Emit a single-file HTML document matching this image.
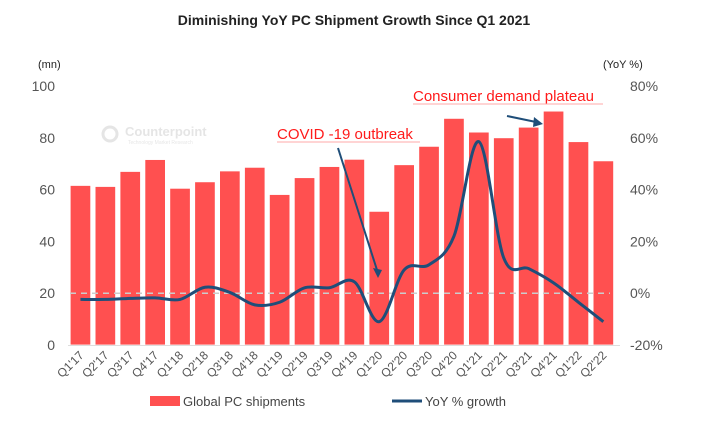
<!DOCTYPE html>
<html><head><meta charset="utf-8"><style>
body{margin:0;background:#fff;}
svg text{font-family:"Liberation Sans",Arial,sans-serif;}
</style></head><body>
<svg width="708" height="421" viewBox="0 0 708 421">
<text x="354" y="25" text-anchor="middle" font-size="14" font-weight="bold" fill="#222">Diminishing YoY PC Shipment Growth Since Q1 2021</text>
<text x="38" y="68" font-size="11" fill="#222">(mn)</text>
<text x="603" y="68" font-size="11" fill="#222">(YoY %)</text>
<g opacity="0.25">
<circle cx="110" cy="134" r="7" fill="none" stroke="#999" stroke-width="3"/>
<text x="125" y="136" font-size="13" font-weight="bold" fill="#999">Counterpoint</text>
<text x="128" y="144" font-size="5" fill="#999">Technology Market Research</text>
</g>
<g id="leftTicks"></g><g id="rightTicks"></g>
<g id="bars"></g>
<line x1="68" x2="620" y1="345.5" y2="345.5" stroke="#ddd" stroke-width="1"/>
<line id="zeroLine" x1="70" x2="610" stroke="#ccc" stroke-width="1.5" stroke-dasharray="6,5"/>
<path id="yoyLine" fill="none" stroke="#1f4e79" stroke-width="3"/>
<g id="xLabels"></g>
<g>
<text x="277" y="139" font-size="15" fill="#ff1a1a">COVID -19 outbreak</text>
<line x1="277" y1="142" x2="420" y2="142" stroke="#ffaaaa" stroke-width="1"/>
<line x1="338" y1="148" x2="377" y2="270" stroke="#1f4e79" stroke-width="2"/>
<polygon points="373,268 382,270 378,278" fill="#1f4e79"/>
</g>
<g>
<text x="413" y="101" font-size="15" fill="#ff1a1a">Consumer demand plateau</text>
<line x1="413" y1="104" x2="603" y2="104" stroke="#ffaaaa" stroke-width="1"/>
<line x1="507" y1="116" x2="536" y2="122" stroke="#1f4e79" stroke-width="2"/>
<polygon points="534,117 543,124 533,127" fill="#1f4e79"/>
</g>
<g>
<rect x="150" y="396" width="30" height="10" fill="#ff5050"/>
<text x="183" y="406" font-size="13" fill="#444">Global PC shipments</text>
<line x1="392" y1="401" x2="422" y2="401" stroke="#1f4e79" stroke-width="3"/>
<text x="425" y="406" font-size="13" fill="#444">YoY % growth</text>
</g>
</svg>
<script>
const categories=["Q1'17","Q2'17","Q3'17","Q4'17","Q1'18","Q2'18","Q3'18","Q4'18","Q1'19","Q2'19","Q3'19","Q4'19","Q1'20","Q2'20","Q3'20","Q4'20","Q1'21","Q2'21","Q3'21","Q4'21","Q1'22","Q2'22"];
const shipments=[61.6,61.2,67,71.6,60.5,63,67.2,68.6,58.1,64.6,68.9,71.7,51.6,69.6,76.7,87.5,82.2,80,84.1,90.3,78.5,71.1];
const yoyGrowth=[-2.4,-2.4,-2,-1.8,-2.4,2.3,0.3,-4.5,-3.5,2.1,2.1,4.4,-11,9,11,22,58.5,13.6,9.5,4,-3.5,-11];
const leftTicks=[0,20,40,60,80,100];
const rightTicks=[-20,0,20,40,60,80];
const NS="http://www.w3.org/2000/svg";
const x0=68,slot=24.9,bw=20.5;
const yL=v=>345-v*2.59;
const yR=v=>293.2-v*2.59;
const xc=i=>x0+slot*i+slot/2;
function mk(tag,attrs,parent){const e=document.createElementNS(NS,tag);for(const k in attrs)e.setAttribute(k,attrs[k]);document.getElementById(parent).appendChild(e);return e;}
leftTicks.forEach(v=>{const t=mk('text',{x:55,y:yL(v)+5,'text-anchor':'end','font-size':14,fill:'#555'},'leftTicks');t.textContent=v;

});
rightTicks.forEach(v=>{const t=mk('text',{x:630,y:yR(v)+5,'font-size':14,fill:'#555'},'rightTicks');t.textContent=v+'%';

});
shipments.forEach((v,i)=>{const r=mk('rect',{x:xc(i)-bw/2,y:yL(v),width:bw,height:yL(0)-yL(v),fill:'#ff5050',stroke:'#fff','stroke-width':0.8},'bars');

});
categories.forEach((c,i)=>{const x=xc(i)+4,y=356;const t=mk('text',{x:x,y:y,'text-anchor':'end','font-size':12,fill:'#555',transform:`rotate(-45 ${x} ${y})`},'xLabels');t.textContent=c;

});
const z=document.getElementById('zeroLine');z.setAttribute('y1',yR(0));z.setAttribute('y2',yR(0));
const pts=yoyGrowth.map((v,i)=>[xc(i),yR(v)]);
let d=`M${pts[0][0]},${pts[0][1]}`;
for(let i=0;i<pts.length-1;i++){const p0=pts[Math.max(i-1,0)],p1=pts[i],p2=pts[i+1],p3=pts[Math.min(i+2,pts.length-1)];
const c1=[p1[0]+(p2[0]-p0[0])/6,p1[1]+(p2[1]-p0[1])/6],c2=[p2[0]-(p3[0]-p1[0])/6,p2[1]-(p3[1]-p1[1])/6];
d+=` C${c1[0]},${c1[1]} ${c2[0]},${c2[1]} ${p2[0]},${p2[1]}`;}
document.getElementById('yoyLine').setAttribute('d',d);
</script>
</body></html>
